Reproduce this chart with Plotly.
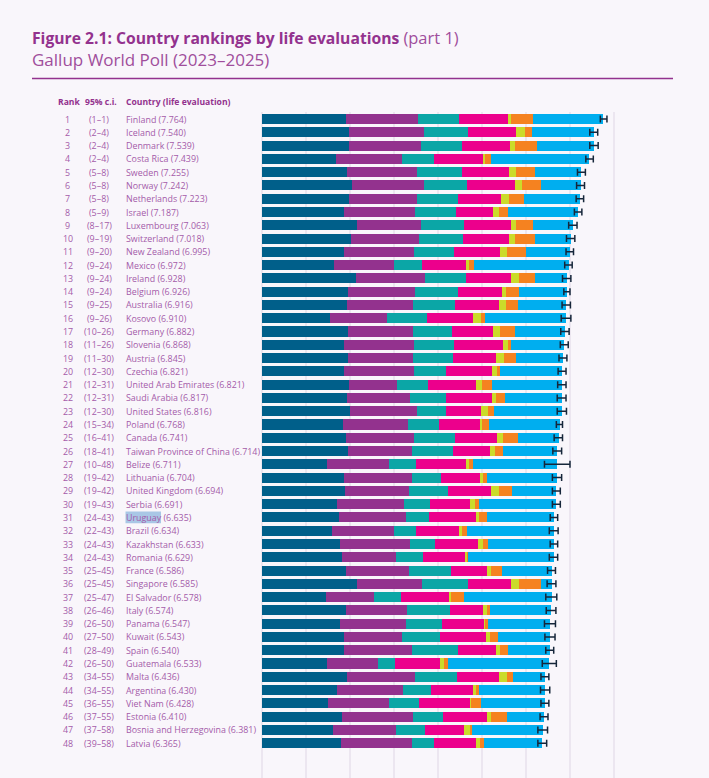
#World Happiness Report figure 2.1 - stacked bars with ci whiskers
import plotly.graph_objects as go

ranks = list(range(1, 49))
countries = ["Finland", "Iceland", "Denmark", "Costa Rica", "Sweden", "Norway", "Netherlands", "Israel",
             "Luxembourg", "Switzerland", "New Zealand", "Mexico", "Ireland", "Belgium", "Australia", "Kosovo",
             "Germany", "Slovenia", "Austria", "Czechia", "United Arab Emirates", "Saudi Arabia", "United States", "Poland",
             "Canada", "Taiwan Province of China", "Belize", "Lithuania", "United Kingdom", "Serbia", "Uruguay", "Brazil",
             "Kazakhstan", "Romania", "France", "Singapore", "El Salvador", "Italy", "Panama", "Kuwait",
             "Spain", "Guatemala", "Malta", "Argentina", "Viet Nam", "Estonia", "Bosnia and Herzegovina", "Latvia"]
scores = [7.764, 7.540, 7.539, 7.439, 7.255, 7.242, 7.223, 7.187,
          7.063, 7.018, 6.995, 6.972, 6.928, 6.926, 6.916, 6.910,
          6.882, 6.868, 6.845, 6.821, 6.821, 6.817, 6.816, 6.768,
          6.741, 6.714, 6.711, 6.704, 6.694, 6.691, 6.635, 6.634,
          6.633, 6.629, 6.586, 6.585, 6.578, 6.574, 6.547, 6.543,
          6.540, 6.533, 6.436, 6.430, 6.428, 6.410, 6.381, 6.365]
ci_labels = ["(1–1)", "(2–4)", "(2–4)", "(2–4)", "(5–8)", "(5–8)", "(5–8)", "(5–9)",
             "(8–17)", "(9–19)", "(9–20)", "(9–24)", "(9–24)", "(9–24)", "(9–25)", "(9–26)",
             "(10–26)", "(11–26)", "(11–30)", "(12–30)", "(12–31)", "(12–31)", "(12–30)", "(15–34)",
             "(16–41)", "(18–41)", "(10–48)", "(19–42)", "(19–42)", "(19–43)", "(24–43)", "(22–43)",
             "(24–43)", "(24–43)", "(25–45)", "(25–45)", "(25–47)", "(26–46)", "(26–50)", "(27–50)",
             "(28–49)", "(26–50)", "(34–55)", "(34–55)", "(36–55)", "(37–55)", "(37–58)", "(39–58)"]

seg1 = [1.91, 1.98, 1.98, 1.68, 1.93, 2.05, 1.97, 1.86, 2.16, 2.02, 1.86, 1.64,
        2.14, 1.95, 1.93, 1.55, 1.95, 1.86, 1.95, 1.86, 1.98, 1.93, 2.00, 1.84,
        1.91, 1.95, 1.48, 1.86, 1.89, 1.70, 1.75, 1.59, 1.77, 1.82, 1.91, 2.16,
        1.45, 1.91, 1.77, 1.86, 1.86, 1.48, 1.93, 1.70, 1.50, 1.82, 1.61, 1.80]
seg2 = [1.64, 1.70, 1.64, 1.50, 1.59, 1.64, 1.55, 1.61, 1.45, 1.55, 1.59, 1.36,
        1.57, 1.52, 1.50, 1.30, 1.48, 1.59, 1.48, 1.59, 1.09, 1.43, 1.52, 1.48,
        1.55, 1.45, 1.41, 1.55, 1.45, 1.52, 1.52, 1.41, 1.59, 1.23, 1.43, 1.48,
        1.09, 1.39, 1.50, 1.32, 1.55, 1.16, 1.55, 1.50, 1.39, 1.61, 1.43, 1.61]
seg3 = [0.92, 1.00, 0.93, 0.73, 1.02, 0.98, 0.93, 0.93, 0.98, 1.00, 0.91, 0.63,
        0.93, 0.98, 0.95, 0.89, 0.89, 0.91, 0.91, 0.73, 0.70, 0.82, 0.66, 0.70,
        0.93, 0.93, 0.61, 0.66, 0.89, 0.59, 0.52, 0.50, 0.57, 0.61, 0.95, 1.05,
        0.61, 0.98, 0.82, 0.86, 1.05, 0.39, 0.95, 0.64, 0.68, 0.68, 0.66, 0.50]
seg4 = [1.11, 1.09, 1.08, 1.11, 1.08, 1.09, 0.98, 0.84, 1.07, 1.05, 1.05, 1.01,
        1.02, 1.00, 1.01, 1.05, 0.93, 1.11, 0.98, 1.05, 1.09, 1.05, 0.80, 0.93,
        0.95, 0.86, 1.14, 0.89, 0.98, 0.91, 1.07, 0.98, 0.98, 0.95, 0.82, 0.98,
        1.09, 0.75, 0.95, 1.05, 0.86, 1.02, 0.95, 0.95, 1.16, 1.00, 0.89, 0.95]
seg5 = [0.09, 0.20, 0.13, 0.05, 0.15, 0.16, 0.19, 0.14, 0.11, 0.13, 0.16, 0.07,
        0.18, 0.09, 0.15, 0.18, 0.16, 0.11, 0.18, 0.11, 0.14, 0.09, 0.16, 0.05,
        0.14, 0.11, 0.07, 0.07, 0.18, 0.11, 0.07, 0.07, 0.11, 0.05, 0.09, 0.16,
        0.05, 0.08, 0.05, 0.09, 0.09, 0.09, 0.18, 0.07, 0.02, 0.09, 0.14, 0.09]
seg6 = [0.50, 0.17, 0.48, 0.14, 0.43, 0.41, 0.33, 0.20, 0.39, 0.45, 0.42, 0.11,
        0.36, 0.30, 0.27, 0.09, 0.34, 0.09, 0.27, 0.07, 0.23, 0.20, 0.14, 0.16,
        0.34, 0.18, 0.09, 0.09, 0.30, 0.11, 0.18, 0.11, 0.11, 0.02, 0.25, 0.50,
        0.30, 0.07, 0.04, 0.18, 0.18, 0.09, 0.14, 0.07, 0.23, 0.36, 0.05, 0.09]
seg7 = [1.59, 1.40, 1.30, 2.23, 1.05, 0.91, 1.27, 1.61, 0.90, 0.82, 1.01, 2.15,
        0.73, 1.09, 1.11, 1.85, 1.13, 1.20, 1.08, 1.41, 1.59, 1.30, 1.54, 1.61,
        0.92, 1.23, 1.91, 1.58, 1.00, 1.75, 1.53, 1.97, 1.50, 1.95, 1.14, 0.26,
        1.99, 1.39, 1.42, 1.18, 0.95, 2.30, 0.74, 1.50, 1.45, 0.85, 1.60, 1.33]

ci_low = [7.69, 7.45, 7.45, 7.36, 7.17, 7.15, 7.14, 7.10, 6.97, 6.92, 6.91, 6.88,
          6.83, 6.86, 6.82, 6.80, 6.79, 6.78, 6.75, 6.73, 6.72, 6.71, 6.71, 6.69,
          6.64, 6.61, 6.42, 6.60, 6.60, 6.60, 6.55, 6.53, 6.55, 6.53, 6.49, 6.48,
          6.45, 6.46, 6.42, 6.43, 6.45, 6.37, 6.34, 6.33, 6.34, 6.32, 6.27, 6.27]
ci_high = [7.84, 7.63, 7.64, 7.53, 7.35, 7.33, 7.31, 7.27, 7.16, 7.11, 7.08, 7.05,
           7.02, 7.00, 7.01, 7.02, 6.98, 6.96, 6.93, 6.91, 6.91, 6.91, 6.92, 6.83,
           6.83, 6.81, 7.00, 6.81, 6.78, 6.78, 6.72, 6.73, 6.72, 6.72, 6.67, 6.68,
           6.70, 6.68, 6.67, 6.66, 6.63, 6.69, 6.52, 6.54, 6.52, 6.50, 6.49, 6.47]

colors = ["#005F8A", "#93328E", "#0BA6A6", "#EC008C", "#CBDB2A", "#F58220", "#00AEEF"]
segments = [seg1, seg2, seg3, seg4, seg5, seg6, seg7]

PURPLE = "#93328E"
TEXT = "#A45BA9"
FONT = "Open Sans"

fig = go.Figure()

#one bar trace per component
for seg, color in zip(segments, colors):
    fig.add_trace(go.Bar(y=ranks, x=seg, orientation="h", marker_color=color,
                         marker_line_width=0, width=0.76, showlegend=False))

#whiskers sit on an invisible marker at the score
fig.add_trace(go.Scatter(
    x=scores, y=ranks, mode="markers", marker=dict(opacity=0, size=1), showlegend=False,
    error_x=dict(type="data", symmetric=False,
                 array=[h - s for h, s in zip(ci_high, scores)],
                 arrayminus=[s - l for s, l in zip(scores, ci_low)],
                 color="#16263A", thickness=1.5, width=3.5)))

W, H, LEFT, RIGHT, TOP = 709, 778, 262, 615, 112

def px(x):
    return (x - LEFT) / (RIGHT - LEFT)

def py(y):
    return (H - y) / (H - TOP)

def page_text(x, y, text, size, color=PURPLE, anchor="left"):
    fig.add_annotation(xref="paper", yref="paper", x=px(x), y=py(y), text=text, showarrow=False,
                       xanchor=anchor, yanchor="middle", borderpad=0, borderwidth=0,
                       font=dict(family=FONT, size=size, color=color))

page_text(32, 38, "<b>Figure 2.1: Country rankings by life evaluations</b> <span style='font-size:16.5px;color:#A04E9C'>(part 1)</span>", 15.7)
page_text(32, 60, "Gallup World Poll (2023–2025)", 17, color="#A04E9C")
page_text(81, 102, "<b>Rank</b>", 8.6, anchor="right")
page_text(85, 102, "<b>95% c.i.</b>", 8.6)
page_text(125.5, 102, "<b>Country (life evaluation)</b>", 8.6)

#table columns to the left of the bars
for rank, ci, name, score in zip(ranks, ci_labels, countries, scores):
    for x, text, anchor in [(68, str(rank), "center"), (99, ci, "center"), (125.5, f"{name} ({score:.3f})", "left")]:
        fig.add_annotation(xref="paper", yref="y", x=px(x), y=rank, text=text, showarrow=False,
                           xanchor=anchor, yanchor="middle", borderpad=0, borderwidth=0,
                           font=dict(family=FONT, size=8.9, color=TEXT))

#selection highlight over Uruguay in the original page
fig.add_shape(type="rect", xref="paper", yref="y", x0=px(125.5), x1=px(161), y0=30.56, y1=31.44,
              fillcolor="#A9C7E6", line_width=0, layer="below")

#header rule
fig.add_shape(type="line", xref="paper", yref="paper", x0=px(32), x1=px(673), y0=py(78.5), y1=py(78.5),
              line=dict(color=PURPLE, width=1.5))

fig.update_layout(
    width=W, height=H, barmode="stack", bargap=0.24,
    margin=dict(l=LEFT, r=W - RIGHT, t=TOP, b=0, autoexpand=False),
    paper_bgcolor="#F9F6FB", plot_bgcolor="#F9F6FB",
    font=dict(family=FONT),
    xaxis=dict(range=[0, 8.023], dtick=1, showgrid=True, gridcolor="#ECE6F0", gridwidth=1.5,
               zeroline=True, zerolinecolor="#ECE6F0", zerolinewidth=1.5, showticklabels=False, ticks=""),
    yaxis=dict(range=[50.62, 0.47], showgrid=False, zeroline=False, showticklabels=False, ticks=""),
)

#page has its default body margin otherwise, which shifts everything by 8px
fig.write_html("out.html", config=dict(displayModeBar=False),
               post_script="document.body.style.margin='0';document.body.style.overflow='hidden';")
